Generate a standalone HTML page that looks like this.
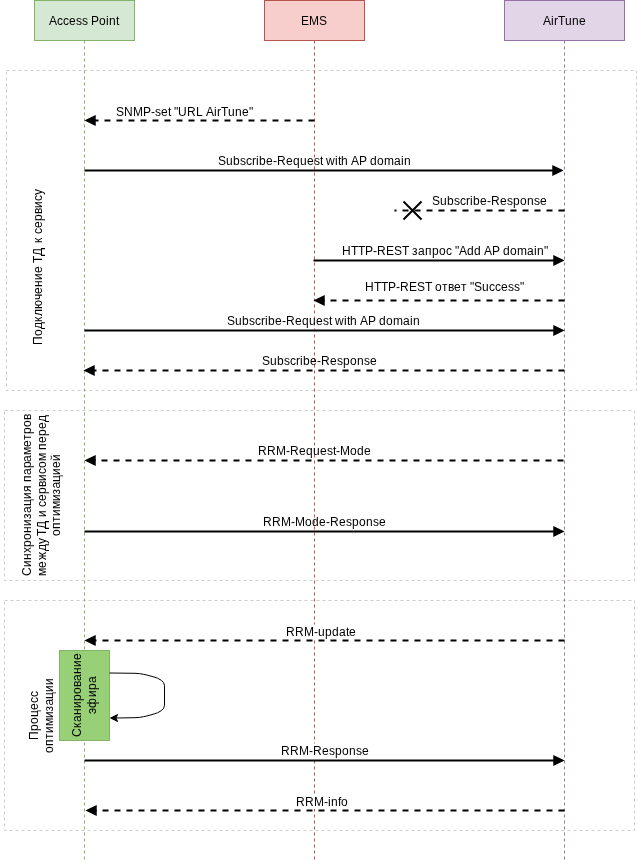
<!DOCTYPE html>
<html><head><meta charset="utf-8"><title>AirTune sequence</title>
<style>
html,body{margin:0;padding:0;background:#fff;}
body{width:637px;height:861px;overflow:hidden;}
svg{display:block;}
text{font-family:"Liberation Sans",Helvetica,Arial,sans-serif;font-size:12px;fill:#000;}
</style></head><body>
<svg width="637" height="861" viewBox="0 0 637 861">
<rect width="637" height="861" fill="#fff"/>
<rect x="6.5" y="70.5" width="630" height="320" fill="none" stroke="#cccccc" stroke-dasharray="3 3"/>
<rect x="4.5" y="410.5" width="630" height="170" fill="none" stroke="#cccccc" stroke-dasharray="3 3"/>
<rect x="4.5" y="600.5" width="630" height="230" fill="none" stroke="#cccccc" stroke-dasharray="3 3"/>
<path d="M84.5 40.5V861" fill="none" stroke="#82b366" stroke-dasharray="3 3"/>
<path d="M314.5 40.5V861" fill="none" stroke="#b85450" stroke-dasharray="3 3"/>
<path d="M564.5 40.5V861" fill="none" stroke="#9673a6" stroke-dasharray="3 3"/>
<rect x="34.5" y="0.5" width="100" height="40" fill="#d5e8d4" stroke="#82b366"/>
<text x="49 57 63 69 76 82 88 91 99 106 109 116" y="25">Access Point</text>
<rect x="264.5" y="0.5" width="100" height="40" fill="#f8cecc" stroke="#b85450"/>
<text x="301 309 319" y="25">EMS</text>
<rect x="504.5" y="0.5" width="120" height="40" fill="#e1d5e7" stroke="#9673a6"/>
<text x="543 551 554 558 565 572 579" y="25">AirTune</text>
<path d="M314.5 120.5H94.736" fill="none" stroke="#000" stroke-width="2" stroke-dasharray="6 6"/>
<path d="M86.736 120.5L94.736 116.5L94.736 124.5Z" fill="#000" stroke="#000" stroke-width="2" stroke-miterlimit="10"/>
<path d="M84.5 170.5H553.264" fill="none" stroke="#000" stroke-width="2"/>
<path d="M561.264 170.5L553.264 166.5L553.264 174.5Z" fill="#000" stroke="#000" stroke-width="2" stroke-miterlimit="10"/>
<path d="M313.5 260.5H554.264" fill="none" stroke="#000" stroke-width="2"/>
<path d="M562.264 260.5L554.264 256.5L554.264 264.5Z" fill="#000" stroke="#000" stroke-width="2" stroke-miterlimit="10"/>
<path d="M564.5 300.5H323.736" fill="none" stroke="#000" stroke-width="2" stroke-dasharray="6 6"/>
<path d="M315.736 300.5L323.736 296.5L323.736 304.5Z" fill="#000" stroke="#000" stroke-width="2" stroke-miterlimit="10"/>
<path d="M84.5 330.5H554.264" fill="none" stroke="#000" stroke-width="2"/>
<path d="M562.264 330.5L554.264 326.5L554.264 334.5Z" fill="#000" stroke="#000" stroke-width="2" stroke-miterlimit="10"/>
<path d="M564.5 370.5H93.736" fill="none" stroke="#000" stroke-width="2" stroke-dasharray="6 6"/>
<path d="M85.736 370.5L93.736 366.5L93.736 374.5Z" fill="#000" stroke="#000" stroke-width="2" stroke-miterlimit="10"/>
<path d="M563.5 460.5H94.736" fill="none" stroke="#000" stroke-width="2" stroke-dasharray="6 6"/>
<path d="M86.736 460.5L94.736 456.5L94.736 464.5Z" fill="#000" stroke="#000" stroke-width="2" stroke-miterlimit="10"/>
<path d="M84.5 531.5H554.264" fill="none" stroke="#000" stroke-width="2"/>
<path d="M562.264 531.5L554.264 527.5L554.264 535.5Z" fill="#000" stroke="#000" stroke-width="2" stroke-miterlimit="10"/>
<path d="M564.5 640.5H94.736" fill="none" stroke="#000" stroke-width="2" stroke-dasharray="6 6"/>
<path d="M86.736 640.5L94.736 636.5L94.736 644.5Z" fill="#000" stroke="#000" stroke-width="2" stroke-miterlimit="10"/>
<path d="M84.5 760.5H554.264" fill="none" stroke="#000" stroke-width="2"/>
<path d="M562.264 760.5L554.264 756.5L554.264 764.5Z" fill="#000" stroke="#000" stroke-width="2" stroke-miterlimit="10"/>
<path d="M564.5 810.5H95.736" fill="none" stroke="#000" stroke-width="2" stroke-dasharray="6 6"/>
<path d="M87.736 810.5L95.736 806.5L95.736 814.5Z" fill="#000" stroke="#000" stroke-width="2" stroke-miterlimit="10"/>
<text x="116 124 133 143 151 155 161 168 171 174 178 187 196 203 206 214 217 221 228 235 242 249" y="116">SNMP-set &quot;URL AirTune&quot;</text>
<text x="218 226 233 240 246 252 256 259 266 273 277 286 293 300 307 314 320 323 326 335 338 341 348 351 359 367 370 377 384 394 401 404" y="165">Subscribe-Request with AP domain</text>
<text x="342 351 358 365 373 377 386 394 402 409 412 418 425 432 439 446 452 455 459 467 474 481 484 492 500 503 510 517 527 534 537 544" y="255">HTTP-REST запрос &quot;Add AP domain&quot;</text>
<text x="365 374 381 388 396 400 409 417 425 432 435 442 448 454 461 467 470 474 482 489 495 501 508 514 520" y="291">HTTP-REST ответ &quot;Success&quot;</text>
<text x="227 235 242 249 255 261 265 268 275 282 286 295 302 309 316 323 329 332 335 344 347 350 357 360 368 376 379 386 393 403 410 413" y="325">Subscribe-Request with AP domain</text>
<text x="262 270 277 284 290 296 300 303 310 317 321 330 337 343 350 357 364 370" y="365">Subscribe-Response</text>
<text x="258 267 276 286 290 299 306 313 320 327 333 336 340 350 357 364" y="455">RRM-Request-Mode</text>
<text x="263 272 281 291 295 305 312 319 326 330 339 346 352 359 366 373 379" y="526">RRM-Mode-Response</text>
<rect x="286" y="624.5" width="70.0" height="14.5" fill="#fff"/>
<text x="286 295 304 314 318 325 332 339 346 349" y="636">RRM-update</text>
<rect x="281" y="743.5" width="88.0" height="14.5" fill="#fff"/>
<text x="281 290 299 309 313 322 329 335 342 349 356 362" y="755">RRM-Response</text>
<rect x="296" y="794.5" width="52.0" height="14.5" fill="#fff"/>
<text x="296 305 314 324 328 331 338 341" y="806">RRM-info</text>
<path d="M564.5 210.5H394.5" fill="none" stroke="#000" stroke-width="2" stroke-dasharray="6 6"/>
<path d="M403.5 201.5L421.5 219.5M421.5 201.5L403.5 219.5" fill="none" stroke="#000" stroke-width="2"/>
<text x="432 440 447 454 460 466 470 473 480 487 491 500 507 513 520 527 534 540" y="205">Subscribe-Response</text>
<rect x="59.5" y="650.5" width="50" height="90" fill="#97d077" stroke="#82b366"/>
<path d="M109.5 673L135 673.3C141 673.4 146.5 674.9 152 676.4Q164.5 679.6 164.5 685.75L164.5 705.25Q164.5 711.4 152 714.6C146.5 716.1 141 717.6 135 717.7L116 718" fill="none" stroke="#000"/>
<path d="M110.6 718L117.6 714.5L115.9 718L117.6 721.5Z" fill="#000" stroke="#000" stroke-miterlimit="10"/>
<text transform="translate(42 345) rotate(-90)" x="0 9 16 23 29 36 45 51 58 65 72 79 82 89 99 102 108 111 117 124 131 137 144 150" y="0">Подключение ТД к сервису</text>
<text transform="translate(31 576) rotate(-90)" x="0 9 16 23 29 36 43 50 57 63 70 77 84 91 94 101 108 114 121 129 136 142 149 156" y="0">Синхронизация параметров</text>
<text transform="translate(46 576) rotate(-90)" x="0 8 16 25 32 38 40 47 57 59 66 69 75 82 89 95 102 108 115 123 126 133 140 147 154" y="0">между ТД и сервисом перед</text>
<text transform="translate(60 536) rotate(-90)" x="0 7 14 20 27 35 41.5 47.5 54 61 68 75" y="0">оптимизацией</text>
<text transform="translate(38 740) rotate(-90)" x="0 9 16 23 30 37 43" y="0">Процесс</text>
<text transform="translate(53 753) rotate(-90)" x="0 7 14 20 27 35 41.5 47.5 54 61 68" y="0">оптимизации</text>
<text transform="translate(81 737) rotate(-90)" x="0 9 15 22 29 36 43 50 56 63 70 77" y="0">Сканирование</text>
<text transform="translate(96 714) rotate(-90)" x="0 6 17 24 31" y="0">эфира</text>
</svg></body></html>
